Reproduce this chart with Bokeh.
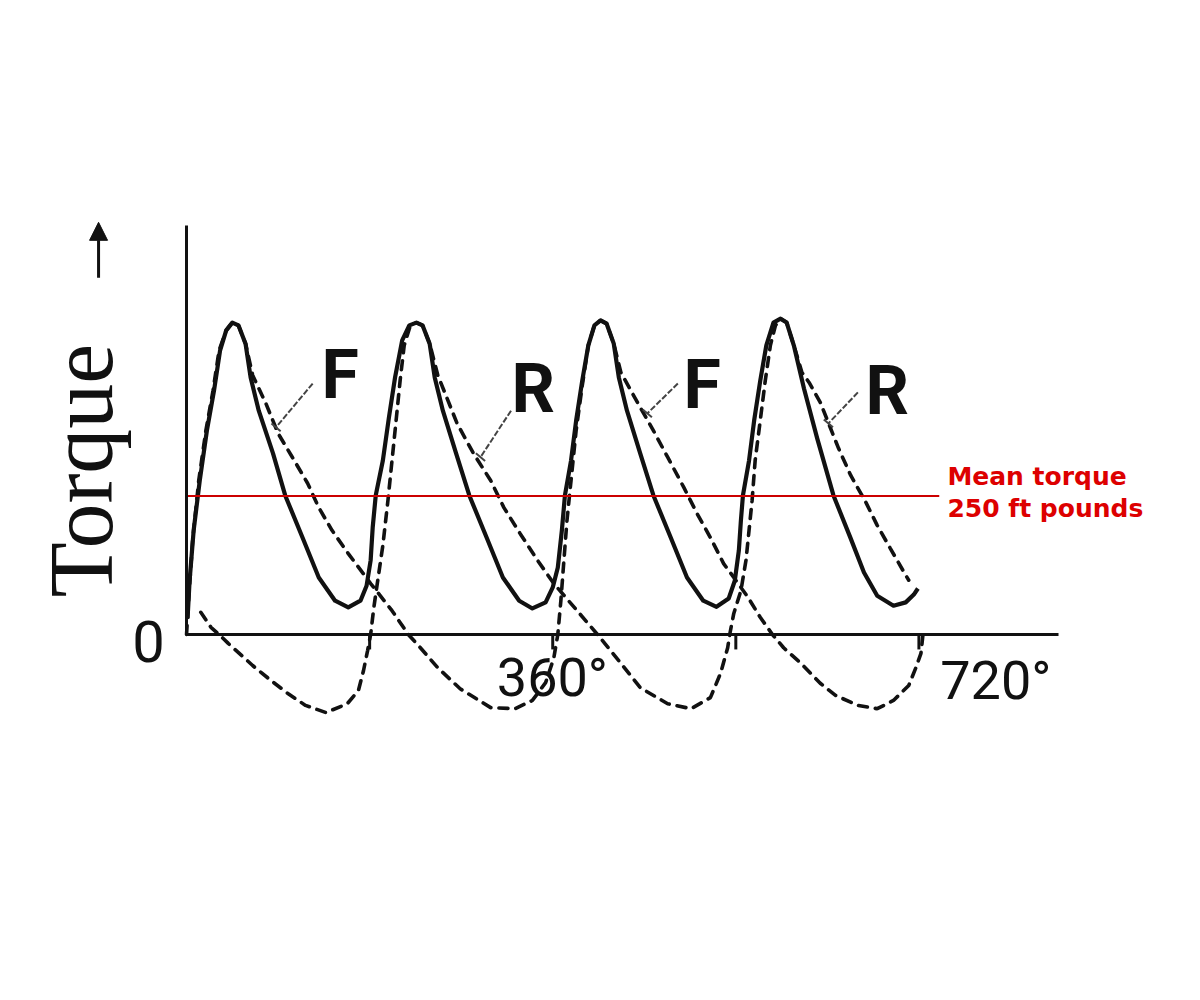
import numpy as np
from bokeh.plotting import figure
from bokeh.models import (LinearAxis, FixedTicker, Label, Arrow, NormalHead, Range1d)
from bokeh.embed import file_html
from bokeh.resources import INLINE

# ---------------- data (crank angle in degrees, torque in ft-lb) ----------------
# combined (resultant) torque - solid curve
solid_angle = [1, 3, 7, 13, 20, 27, 33, 39, 45, 51, 58, 63, 71, 85, 97, 114, 130, 146, 159, 171, 177,
               181, 183, 186, 193, 199, 205, 212, 219, 226, 232, 239, 244, 252, 265, 278, 295, 311, 327, 340, 353, 360,
               365, 369, 372, 378, 383, 389, 395, 401, 407, 413, 420, 425, 433, 446, 459, 476, 492, 508, 521, 533, 539,
               543, 545, 547, 553, 558, 564, 570, 577, 584, 590, 597, 607, 620, 636, 653, 666, 679, 695, 707, 715, 719]
solid_torque = [29, 97, 188, 278, 368, 440, 513, 549, 563, 558, 525, 464, 404, 327, 251, 175, 103, 61, 49, 61, 88,
                134, 193, 251, 314, 392, 464, 531, 558, 563, 558, 525, 464, 404, 327, 251, 175, 103, 61, 47, 58, 85,
                121, 188, 251, 314, 386, 458, 522, 558, 567, 561, 525, 464, 404, 327, 251, 175, 103, 61, 50, 65, 97,
                152, 206, 251, 314, 386, 458, 522, 563, 570, 563, 522, 444, 354, 251, 173, 112, 70, 52, 58, 72, 83]

# front cylinder torque - dashed curve "F"
f_angle = [0, 2, 6, 12, 19, 26, 32, 39, 45, 51, 58, 65, 78, 90, 104, 119, 130, 143, 159, 181, 202, 218,
           228, 247, 269, 299, 323, 340, 353, 361, 365, 368, 371, 374, 378, 383, 389, 395, 401, 407, 413, 420,
           427, 446, 459, 473, 489, 502, 515, 528, 538, 552, 564, 576, 587, 604, 623, 638, 660, 679, 695, 710,
           717, 722, 724]
f_torque = [0, 61, 170, 278, 368, 440, 513, 549, 563, 558, 525, 468, 417, 363, 320, 273, 229, 188, 146, 92, 43, 0,
            -20, -60, -98, -132, -134, -119, -87, -43, 0, 61, 134, 206, 278, 368, 449, 522, 558, 567, 561, 525,
            473, 410, 368, 320, 265, 218, 175, 128, 103, 67, 31, 0, -24, -52, -88, -110, -128, -134, -119, -92,
            -60, -34, 0]

# rear cylinder torque - dashed curve "R"
r_angle = [14, 24, 32, 41, 65, 83, 100, 117, 137, 158, 169, 174, 178, 181, 184, 188, 193, 198, 202, 206, 210,
           214, 220, 226, 232, 239, 247, 266, 282, 299, 312, 328, 345, 361, 384, 404, 427, 446, 473, 496, 515,
           525, 532, 534, 538, 545, 550, 553, 556, 559, 564, 569, 574, 579, 584, 590, 597, 605, 612, 623, 641,
           653, 668, 679, 692, 707, 710]
r_torque = [40, 13, 0, -16, -56, -83, -107, -128, -141, -125, -101, -65, -29, 0, 47, 98, 161, 242, 314, 386, 459,
            522, 558, 563, 558, 525, 468, 381, 327, 278, 229, 182, 134, 92, 43, 0, -52, -96, -125, -134, -114,
            -70, -24, 0, 38, 79, 134, 188, 242, 314, 386, 459, 522, 558, 570, 563, 522, 473, 455, 419, 336,
            287, 238, 197, 155, 107, 98]

mean_torque = 250            # ft pounds
mean_span = [0, 740]         # angular extent of the mean-torque line
x_axis_bounds = (0, 857)
y_axis_bounds = (0, 738)
tick_angles = [180, 360, 540, 720]
tick_labels = ["0", "360°", "720°"]
curve_labels = ["F", "R", "F", "R"]

# ---------------- figure ----------------
W, H = 1184, 984
p = figure(width=W, height=H, output_backend="svg", toolbar_location=None,
           x_axis_type=None, y_axis_type=None, min_border=0,
           x_range=Range1d(-182.9, 981.1), y_range=Range1d(-631.8, 1144.4))
p.grid.visible = False
p.outline_line_color = None
p.background_fill_color = "white"
p.border_fill_color = "white"

ink = "#111111"
axis_style = dict(fixed_location=0, ticker=FixedTicker(ticks=[]), axis_line_width=3,
                  axis_line_color=ink, major_tick_out=0, major_tick_in=0,
                  minor_tick_out=0, minor_tick_in=0)
p.add_layout(LinearAxis(bounds=x_axis_bounds, **axis_style), "below")
p.add_layout(LinearAxis(bounds=y_axis_bounds, **axis_style), "left")

# small tick marks hanging below the angle axis
tick_depth = 27
p.segment(tick_angles, [0] * len(tick_angles), tick_angles, [-tick_depth] * len(tick_angles),
          line_width=3, line_color=ink)

p.line(f_angle, f_torque, line_width=3.6, line_color=ink, line_dash="9 8", line_cap="round")
p.line(r_angle, r_torque, line_width=3.6, line_color=ink, line_dash="9 8", line_cap="round")
p.line(solid_angle, solid_torque, line_width=4.2, line_color=ink, line_join="round")

# mean torque line
p.line(mean_span, [mean_torque, mean_torque], line_width=2, line_color="#cc0000")

# curve letters and their leader lines
lab_a = [151, 341, 507, 689]
lab_t = [468, 444, 451, 440]
lead_a0 = [124, 319, 483, 660]
lead_t0 = [453, 404, 453, 437]
lead_a1 = [88, 289, 453, 631]
lead_t1 = [374, 320, 399, 381]
p.segment(lead_a0, lead_t0, lead_a1, lead_t1, line_width=2, line_color="#444444", line_dash="6 2")
p.scatter(lead_a1, lead_t1, marker="dash", size=12, line_width=2, line_color="#444444", angle=-0.7)
for a, t, s in zip(lab_a, lab_t, curve_labels):
    p.add_layout(Label(x=a, y=t, text=s, text_align="center", text_baseline="middle",
                       text_font="Roboto", text_font_style="bold",
                       text_font_size="68px", text_color=ink))

# axis texts
num_font = "Roboto"
p.add_layout(Label(x=-37.4, y=-12.6, text=tick_labels[0], text_font=num_font, text_font_size="58px",
                   text_align="center", text_baseline="middle", text_color=ink))
p.add_layout(Label(x=305, y=-78, text=tick_labels[1], text_font=num_font, text_font_size="54px",
                   text_align="left", text_baseline="middle", text_color=ink))
p.add_layout(Label(x=741, y=-83, text=tick_labels[2], text_font=num_font, text_font_size="54px",
                   text_align="left", text_baseline="middle", text_color=ink))

p.add_layout(Label(x=-103, y=296, text="Torque", angle=np.pi / 2, text_align="center",
                   text_baseline="middle", text_font="Liberation Serif",
                   text_font_size="90px", text_color=ink))
p.add_layout(Arrow(x_start=-86.5, y_start=644, x_end=-86.5, y_end=744, line_width=3, line_color=ink,
                   end=NormalHead(size=18, fill_color=ink, line_color=ink)))

red = "#dd0000"
p.add_layout(Label(x=748, y=285, text="Mean torque", text_font="DejaVu Sans", text_font_style="bold",
                   text_font_size="25px", text_color=red, text_baseline="middle"))
p.add_layout(Label(x=748, y=227, text="250 ft pounds", text_font="DejaVu Sans", text_font_style="bold",
                   text_font_size="25px", text_color=red, text_baseline="middle"))

open("out.html", "w").write(file_html(p, INLINE))
